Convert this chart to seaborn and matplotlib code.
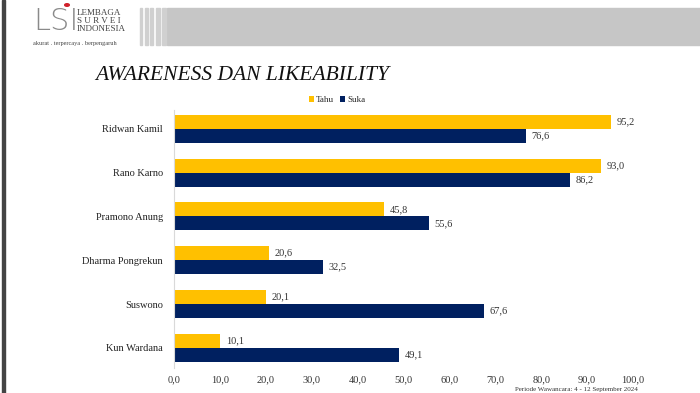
import matplotlib
matplotlib.use("Agg")
import matplotlib.pyplot as plt
import matplotlib.patches as mpatches
import seaborn as sns
import pandas as pd

names = ["Ridwan Kamil", "Rano Karno", "Pramono Anung", "Dharma Pongrekun", "Suswono", "Kun Wardana"]
tahu = [95.2, 93.0, 45.8, 20.6, 20.1, 10.1]
suka = [76.6, 86.2, 55.6, 32.5, 67.6, 49.1]
series = ["Tahu", "Suka"]
xticks = [0, 10, 20, 30, 40, 50, 60, 70, 80, 90, 100]

df = pd.DataFrame({
    "name": names * 2,
    "value": tahu + suka,
    "series": [series[0]] * len(names) + [series[1]] * len(names),
})

sns.set_theme(style="white")
plt.rcParams["font.family"] = ["Liberation Serif", "DejaVu Serif"]

W, H = 700, 393
fig = plt.figure(figsize=(7, 3.93), dpi=100)
ax = fig.add_axes([174 / W, 1 - 368 / H, 459 / W, 258 / H])

palette = {"Tahu": "#FFC000", "Suka": "#002060"}
sns.barplot(data=df, y="name", x="value", hue="series", order=names,
            hue_order=series, palette=palette, width=0.64, gap=0,
            saturation=1, orient="h", ax=ax, legend=True, linewidth=0)

for cont in ax.containers:
    ax.bar_label(cont, labels=[f"{v:.1f}".replace(".", ",") for v in cont.datavalues],
                 padding=4, fontsize=7.5, color="#333333")

ax.set_xlim(0, 100)
ax.set_ylim(5.46, -0.43)
ax.set_xticks(xticks)
ax.set_xticklabels([f"{t:.1f}".replace(".", ",") for t in xticks], fontsize=7.5, color="#333333")
ax.tick_params(axis="y", labelsize=7.5, labelcolor="#222222", length=0, pad=8)
ax.tick_params(axis="x", length=0, pad=5)
ax.set_xlabel("")
ax.set_ylabel("")
for s in ["top", "right", "bottom"]:
    ax.spines[s].set_visible(False)
ax.spines["left"].set_color("#d9d9d9")
ax.spines["left"].set_linewidth(0.8)

leg = ax.legend(loc="lower center", ncol=2, frameon=False, fontsize=6.5,
                handlelength=0.6, handleheight=0.6, handletextpad=0.2,
                columnspacing=0.6, borderaxespad=0, borderpad=0)
leg.set_bbox_to_anchor((337 / W, 1 - 104 / H), transform=fig.transFigure)

# Title
fig.text(95 / W, 1 - 75 / H, "AWARENESS DAN LIKEABILITY", fontsize=15.5, style="italic",
         ha="left", va="center", color="#111111")

# Header decoration
fig.patches.append(mpatches.Rectangle((167 / W, 1 - 45 / H), (W - 167) / W, 37 / H,
                                      transform=fig.transFigure, color="#c6c6c6", zorder=0))
for x0, w in [(140, 2), (145, 2.5), (150, 3), (156, 3.5), (162, 3.5)]:
    fig.patches.append(mpatches.Rectangle((x0 / W, 1 - 45 / H), w / W, 37 / H,
                                          transform=fig.transFigure, color="#d0d0d0", zorder=0))
fig.patches.append(mpatches.Rectangle((2 / W, 0), 3 / W, 1, transform=fig.transFigure,
                                      color="#444444", zorder=0))

# Logo
fig.text(33 / W, 1 - 21 / H, "LSI", fontsize=22, color="#8a8a8a", ha="left", va="center",
         family=["DejaVu Sans"], fontweight="light")
fig.patches.append(mpatches.Circle((67 / W, 1 - 5 / H), 2.3 / W, transform=fig.transFigure,
                                   color="#d0202a"))
fig.text(77 / W, 1 - 13 / H, "LEMBAGA", fontsize=6.5, color="#444444", ha="left", va="center")
fig.text(77 / W, 1 - 21 / H, "S U R V E I", fontsize=6.5, color="#444444", ha="left", va="center")
fig.text(77 / W, 1 - 29 / H, "INDONESIA", fontsize=6.5, color="#444444", ha="left", va="center")
fig.text(33 / W, 1 - 43 / H, "akurat . terpercaya . berpengaruh", fontsize=4.5, color="#444444",
         ha="left", va="center")

# Source footnote
fig.text(515 / W, 0.5 / H, "Periode Wawancara: 4 - 12 September 2024", fontsize=5,
         color="#333333", ha="left", va="bottom")

fig.savefig("out.png", dpi=100)
